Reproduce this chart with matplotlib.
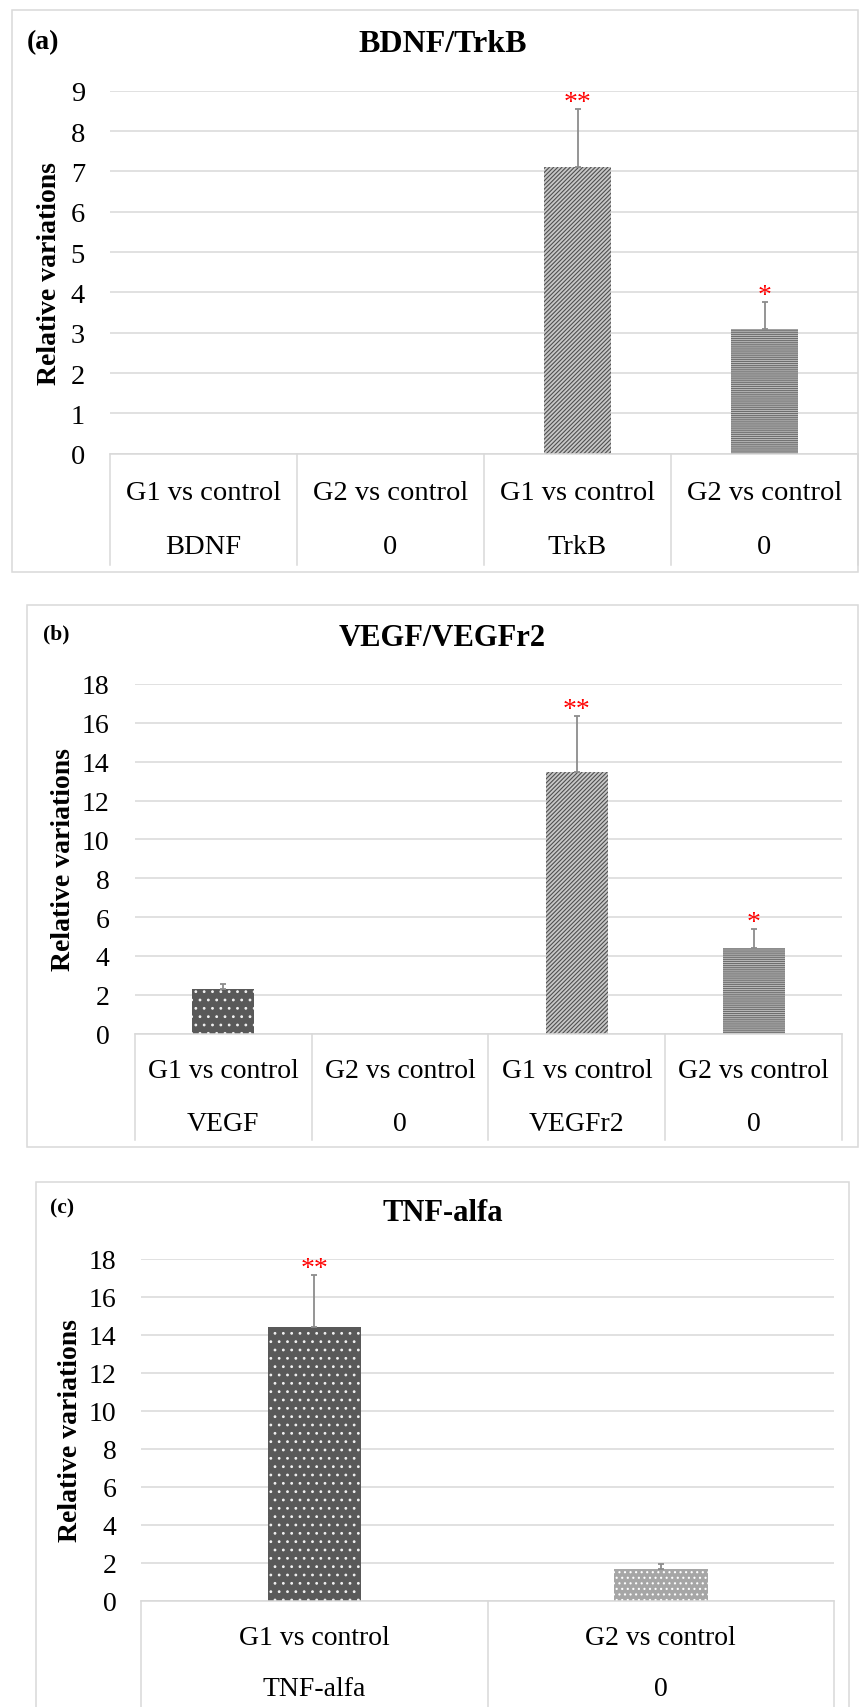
import numpy as np
import matplotlib
matplotlib.use('Agg')
import matplotlib.pyplot as plt
from matplotlib.patches import Rectangle

plt.rcParams['font.family'] = ['Liberation Serif', 'DejaVu Serif']
plt.rcParams['hatch.linewidth'] = 0.8

W, H = 862, 1708

# ---- data ----
a_groups = ['G1 vs control', 'G2 vs control', 'G1 vs control', 'G2 vs control']
a_genes = ['BDNF', '0', 'TrkB', '0']
a_values = [0, 0, 7.10, 3.09]
a_err = [0, 0, 1.44, 0.66]
a_stars = ['', '', '**', '*']

b_groups = ['G1 vs control', 'G2 vs control', 'G1 vs control', 'G2 vs control']
b_genes = ['VEGF', '0', 'VEGFr2', '0']
b_values = [2.30, 0, 13.49, 4.43]
b_err = [0.27, 0, 2.87, 0.97]
b_stars = ['', '', '**', '*']

c_groups = ['G1 vs control', 'G2 vs control']
c_genes = ['TNF-alfa', '0']
c_values = [14.42, 1.68]
c_err = [2.73, 0.27]
c_stars = ['**', '']

# bar fill styles (face, hatch colour, hatch)
dots_dark = ('#595959', '#f2f2f2', '..')
dots_light = ('#a6a6a6', '#ffffff', '...')
diag = ('#c8c8c8', '#4f4f4f', '////////')
horiz = ('#bdbdbd', '#6e6e6e', '--------')

LINE = '#d9d9d9'

fig = plt.figure(figsize=(W / 100, H / 100), dpi=100)


def fx(x):
    return x / W


def fy(y):
    return 1 - y / H


def panel(border, axbox, ymax, ystep, groups, genes, values, err, stars, styles,
          title, title_y, title_size, tag, tag_xy, tag_size, width, rows_y,
          table_bottom, ylabel_x, fs):
    bx0, by0, bx1, by1 = border
    fig.add_artist(Rectangle((fx(bx0), fy(by1)), (bx1 - bx0) / W, (by1 - by0) / H,
                             transform=fig.transFigure, fill=False, ec=LINE, lw=1.1))
    x0, y0, x1, y1 = axbox
    ax = fig.add_axes([fx(x0), fy(y1), (x1 - x0) / W, (y1 - y0) / H])
    n = len(values)
    xs = np.arange(n)
    bars = ax.bar(xs, values, width=width, linewidth=0, zorder=2)
    for p, (fc, hc, hatch) in zip(bars, styles):
        p.set_facecolor(fc)
        p.set_edgecolor(hc)
        p.set_hatch(hatch)
    idx = [i for i in range(n) if err[i] > 0]
    ax.errorbar(xs[idx], np.array(values)[idx],
                yerr=[np.zeros(len(idx)), np.array(err)[idx]],
                fmt='none', ecolor='#8c8c8c', elinewidth=1.3, capsize=2.5, capthick=1.3, zorder=3)
    for i in range(n):
        if stars[i]:
            ax.annotate(stars[i], (xs[i], values[i] + err[i]), xytext=(0, 0),
                        textcoords='offset points', ha='center', va='baseline',
                        color='red', fontsize=20, annotation_clip=False)
    ax.set_xlim(-0.5, n - 0.5)
    ax.set_ylim(0, ymax)
    ax.set_yticks(np.arange(0, ymax + 0.1, ystep))
    ax.yaxis.grid(True, color=LINE, lw=1.1)
    ax.set_axisbelow(True)
    ax.set_xticks([])
    ax.tick_params(axis='y', length=0, pad=18, labelsize=fs)
    for s in ['top', 'right', 'left']:
        ax.spines[s].set_visible(False)
    ax.spines['bottom'].set_color(LINE)
    ax.spines['bottom'].set_linewidth(1.1)

    hpx = y1 - y0
    trans = ax.get_xaxis_transform()
    yb = (y1 - table_bottom) / hpx
    for b in np.arange(-0.5, n, 1.0):
        ax.plot([b, b], [0, yb], transform=trans, clip_on=False, color=LINE, lw=1.1)
    for i in range(n):
        ax.text(i, (y1 - rows_y[0]) / hpx, groups[i], transform=trans,
                ha='center', va='center', fontsize=fs)
        ax.text(i, (y1 - rows_y[1]) / hpx, genes[i], transform=trans,
                ha='center', va='center', fontsize=fs)

    ax.set_ylabel('Relative variations', fontsize=20, fontweight='bold', va='center')
    ax.yaxis.set_label_coords((ylabel_x - x0) / (x1 - x0), 0.5)

    fig.text(fx(442.5), fy(title_y), title, ha='center', va='center',
             fontsize=title_size, fontweight='bold')
    fig.text(fx(tag_xy[0]), fy(tag_xy[1]), tag, ha='left', va='center',
             fontsize=tag_size, fontweight='bold')
    return ax


panel((12, 11, 858, 573), (110, 91.7, 858, 454.7), 9, 1,
      a_groups, a_genes, a_values, a_err, a_stars,
      [dots_dark, dots_light, diag, horiz],
      'BDNF/TrkB', 44.4, 23, '(a)', (27, 42.5), 20, 0.353, (494, 547.6), 566, 49.5, 20.5)

panel((27.5, 606.4, 857.6, 1148), (134.7, 685, 842.2, 1034.6), 18, 2,
      b_groups, b_genes, b_values, b_err, b_stars,
      [dots_dark, dots_light, diag, horiz],
      'VEGF/VEGFr2', 639, 22, '(b)', (43, 634), 15.5, 0.35, (1071.4, 1125), 1141, 63, 20)

panel((35.7, 1182.7, 849, 1716), (141.3, 1259.5, 834, 1601.9), 18, 2,
      c_groups, c_genes, c_values, c_err, c_stars,
      [dots_dark, dots_light],
      'TNF-alfa', 1213.7, 22, '(c)', (50.5, 1208.6), 15.5, 0.27, (1638.6, 1690), 1716, 70.4, 20)

fig.savefig('out.png', dpi=100)
